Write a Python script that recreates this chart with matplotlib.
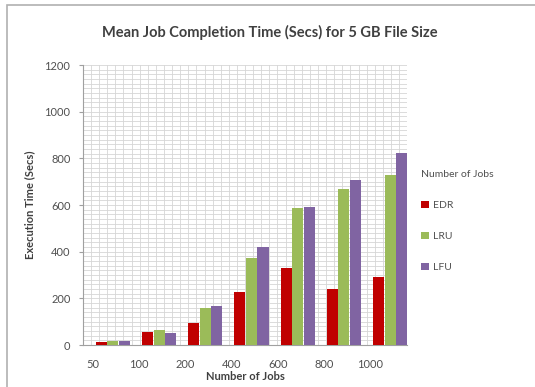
import numpy as np
import matplotlib
matplotlib.use('Agg')
import matplotlib.pyplot as plt
from matplotlib.patches import Rectangle

# Data
jobs = ['50', '100', '200', '400', '600', '800', '1000']
edr = [12, 56, 94, 227, 330, 240, 291]
lru = [16, 64, 159, 373, 587, 669, 729]
lfu = [18, 51, 167, 420, 592, 707, 823]
series_names = ['EDR', 'LRU', 'LFU']
colors = ['#C00000', '#9BBB59', '#8064A2']

plt.rcParams['font.family'] = ['Lato', 'DejaVu Sans']

fig = plt.figure(figsize=(5.35, 3.87), dpi=100)
ax = fig.add_axes([0.155, 0.1085, 0.606, 0.7235])

x = np.arange(len(jobs))
width = 0.24
for k, (vals, name, c) in enumerate(zip([edr, lru, lfu], series_names, colors)):
    ax.bar(x + (k - 1) * 0.25, vals, width=width, color=c, label=name, zorder=3)

xmin, xmax = -0.65, 6.37
ax.set_xlim(xmin, xmax)
ax.set_ylim(0, 1200)

# fine background grid
for yv in np.arange(20, 1201, 20):
    ax.axhline(yv, color='#d6d6d6', lw=0.6, zorder=1)
for xv in np.linspace(xmin, xmax, 41)[1:]:
    ax.axvline(xv, color='#d6d6d6', lw=0.6, zorder=1)

ax.set_yticks(np.arange(0, 1201, 200))
ax.set_xticks(x - 0.43)
ax.set_xticklabels(jobs)
ax.tick_params(axis='x', length=0, labelsize=8, colors='#505050', pad=10)
ax.tick_params(axis='y', length=3, labelsize=8, colors='#505050', pad=6)
ax.tick_params(axis='y', color='#a0a0a0')

for s in ['top', 'right']:
    ax.spines[s].set_visible(False)
for s in ['left', 'bottom']:
    ax.spines[s].set_color('#a0a0a0')
    ax.spines[s].set_linewidth(0.8)

ax.set_xlabel('Number of Jobs', fontsize=8, fontweight='bold', color='#404040', labelpad=1)
ax.set_ylabel('Execution Time (Secs)', fontsize=8, fontweight='bold', color='#404040', labelpad=7)

fig.text(0.505, 0.917, 'Mean Job Completion Time (Secs) for 5 GB File Size',
         ha='center', va='center', fontsize=10.5, fontweight='bold', color='#404040')

leg = fig.legend(loc='upper left', bbox_to_anchor=(0.77, 0.585), frameon=False,
                 title='Number of Jobs', fontsize=7.5, title_fontsize=7.5,
                 handlelength=0.7, handleheight=0.7, handletextpad=0.4,
                 labelspacing=2.1, alignment='left')
for t in leg.get_texts():
    t.set_color('#505050')
leg.get_title().set_color('#505050')

# outer chart frame
fig.patches.append(Rectangle((0.013, -0.02), 1.1, 1.007, transform=fig.transFigure,
                             fill=False, edgecolor='#b0b0b0', lw=1.2))

fig.savefig('out.png', dpi=100)
